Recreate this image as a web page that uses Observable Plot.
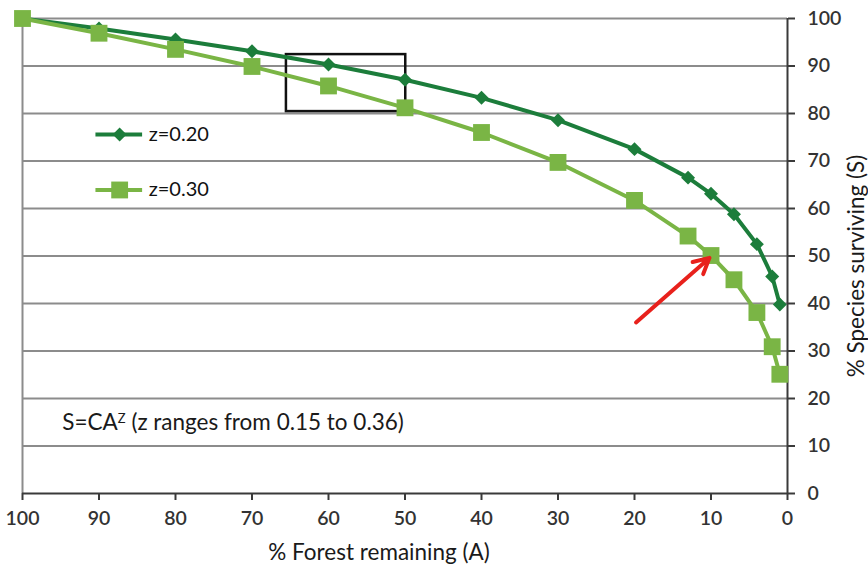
<!DOCTYPE html>
<html>
<head>
<meta charset="utf-8">
<script src="https://cdn.jsdelivr.net/npm/d3@7"></script>
<script src="https://cdn.jsdelivr.net/npm/@observablehq/plot@0.6"></script>
<style>
  html, body { margin: 0; padding: 0; background: #fff; }
  #chart { width: 868px; height: 569px; }
</style>
</head>
<body>
<div id="chart"></div>
<script>
// ---- data ----
const forestRemaining = [100, 90, 80, 70, 60, 50, 40, 30, 20, 13, 10, 7, 4, 2, 1];
const speciesZ020 = [100, 97.9, 95.6, 93.1, 90.3, 87.1, 83.3, 78.6, 72.5, 66.5, 63.1, 58.8, 52.5, 45.7, 39.8];
const speciesZ030 = [100, 96.9, 93.5, 89.9, 85.8, 81.2, 76.0, 69.7, 61.7, 54.2, 50.1, 45.0, 38.1, 30.9, 25.1];
const seriesNames = ["z=0.20", "z=0.30"];
const xTicks = [100, 90, 80, 70, 60, 50, 40, 30, 20, 10, 0];
const yTicks = [0, 10, 20, 30, 40, 50, 60, 70, 80, 90, 100];
const xTitle = "% Forest remaining (A)";
const yTitle = "% Species surviving (S)";
const equationParts = ["S=CA", "Z", " (z ranges from 0.15 to 0.36)"];

// annotations (data coordinates)
const highlightBox = [{x1: 65.5, x2: 49.9, y1: 80.4, y2: 92.4}];
const arrowAnno = [{x1: 19.8, y1: 36.0, x2: 10.2, y2: 49.6}];
const legendRows = [
  {name: seriesNames[0], y: 75.6},
  {name: seriesNames[1], y: 63.9}
];

const DARK = "#1c7d3b";
const LIGHT = "#7ab545";
const colorOf = n => n === seriesNames[0] ? DARK : LIGHT;

const rows20 = forestRemaining.map((x, i) => ({x, y: speciesZ020[i]}));
const rows30 = forestRemaining.map((x, i) => ({x, y: speciesZ030[i]}));
const equationText = equationParts.join("");

const chart = Plot.plot({
  width: 868,
  height: 569,
  marginLeft: 22,
  marginRight: 81,
  marginTop: 18,
  marginBottom: 76,
  style: {fontFamily: "Lato, 'Open Sans', sans-serif", background: "#fff"},
  x: {domain: [100, 0]},
  y: {domain: [0, 100]},
  marks: [
    // grid
    Plot.ruleY(yTicks.filter(d => d > 0), {stroke: "#8c8c8c", strokeWidth: 2}),
    Plot.ruleX([100], {stroke: "#8c8c8c", strokeWidth: 2}),
    // axes lines
    Plot.ruleY([0], {stroke: "#3a3a3a", strokeWidth: 2}),
    Plot.ruleX([0], {stroke: "#3a3a3a", strokeWidth: 2}),
    Plot.axisY({anchor: "right", ticks: yTicks, tickSize: 7, tickPadding: 13, label: null,
      fontSize: 19.5, fontWeight: 600, fill: "#333", stroke: "#3a3a3a", strokeWidth: 2}),
    Plot.axisX({anchor: "bottom", ticks: xTicks, tickSize: 7, tickPadding: 11, label: null,
      fontSize: 19.5, fontWeight: 600, fill: "#333", stroke: "#3a3a3a", strokeWidth: 2}),
    // axis titles
    Plot.text([xTitle], {frameAnchor: "bottom", dx: -26, dy: 59, lineAnchor: "middle", textAnchor: "middle",
      fontSize: 22.5, fill: "#1a1a1a"}),
    Plot.text([yTitle], {frameAnchor: "right", dx: 69, dy: 10, rotate: -90, lineAnchor: "middle", textAnchor: "middle",
      fontSize: 22.5, fill: "#1a1a1a"}),
    // highlight box
    Plot.rect(highlightBox, {x1: "x1", x2: "x2", y1: "y1", y2: "y2", fill: "none", stroke: "#111", strokeWidth: 2.5}),
    // series
    Plot.line(rows20, {x: "x", y: "y", stroke: DARK, strokeWidth: 4}),
    Plot.dot(rows20, {x: "x", y: "y", symbol: "diamond2", r: 6.3, fill: DARK, stroke: "none"}),
    Plot.line(rows30, {x: "x", y: "y", stroke: LIGHT, strokeWidth: 4}),
    Plot.dot(rows30, {x: "x", y: "y", symbol: "square", r: 9.5, fill: LIGHT, stroke: "none"}),
    // arrow
    Plot.arrow(arrowAnno, {x1: "x1", y1: "y1", x2: "x2", y2: "y2", stroke: "#e8211c", strokeWidth: 4,
      headLength: 6.5, headAngle: 55}),
    // equation
    Plot.text([equationText], {x: 94.8, y: 14.9, textAnchor: "start", lineAnchor: "middle",
      fontSize: 22.5, fill: "#1a1a1a"}),
    // legend
    Plot.ruleY(legendRows, {y: "y", x1: 90.4, x2: 84.3, stroke: d => colorOf(d.name), strokeWidth: 4}),
    Plot.dot(legendRows.slice(0, 1), {x: 87.3, y: "y", symbol: "diamond2", r: 6.3, fill: DARK, stroke: "none"}),
    Plot.dot(legendRows.slice(1), {x: 87.3, y: "y", symbol: "square", r: 9.5, fill: LIGHT, stroke: "none"}),
    Plot.text(legendRows, {x: 83.5, y: "y", text: "name", textAnchor: "start", lineAnchor: "middle",
      fontSize: 20, fill: "#111"})
  ]
});

// superscript Z in the equation
d3.select(chart).selectAll("text").filter(function() {
  return this.textContent === equationText;
}).each(function() {
  const t = d3.select(this);
  t.text(null);
  t.append("tspan").text(equationParts[0]);
  t.append("tspan").attr("font-size", 13).attr("dy", -7).text(equationParts[1]);
  t.append("tspan").attr("dy", 7).text(equationParts[2]);
});

document.getElementById("chart").appendChild(chart);
</script>
</body>
</html>
